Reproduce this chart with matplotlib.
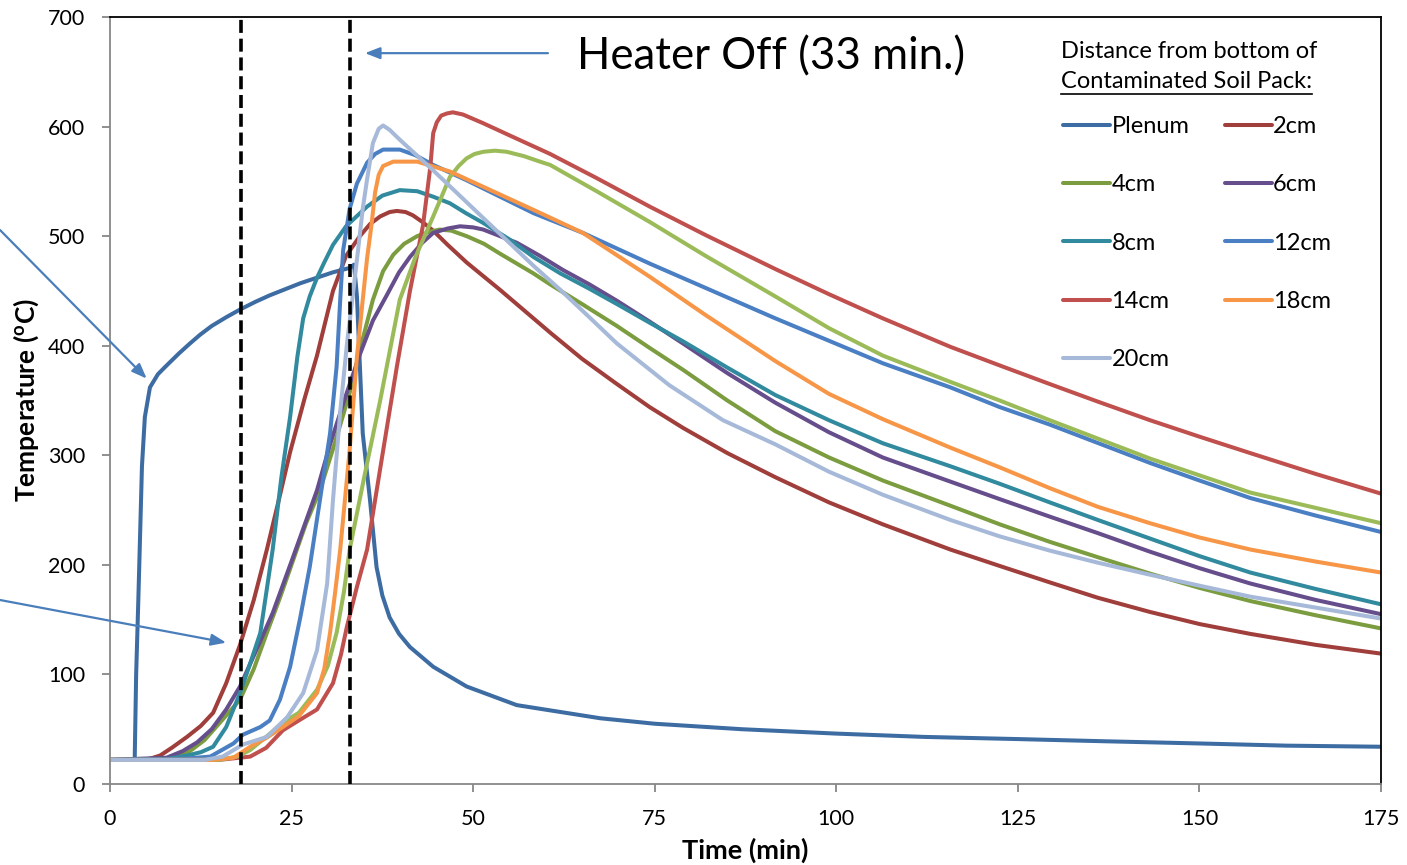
import numpy as np
import matplotlib.pyplot as plt

plt.rcParams['font.family'] = ['Lato', 'DejaVu Sans']
plt.rcParams['mathtext.fontset'] = 'custom'
plt.rcParams['mathtext.rm'] = 'Lato'
plt.rcParams['mathtext.bf'] = 'Lato:bold'

# ---- data (time in min, temperature in degC) ----
t_plenum = [0, 3.4, 3.6, 3.9, 4.4, 4.8, 5.5, 6.6, 7.8, 9.5, 11, 12.4, 14, 16, 17.9, 20, 22,
            26.2, 30.7, 33.0, 33.6, 34.0, 34.8, 35.8, 36.7, 37.5, 38.5, 39.8, 41.3, 44.5,
            49.1, 56, 67.5, 75, 87, 100, 112, 125, 137, 150, 162, 175]
T_plenum = [22, 22, 100, 168, 290, 335, 362, 374, 382, 393, 402, 410, 418, 426, 433, 440, 446,
            457, 467, 471, 474, 445, 320, 259, 198, 172, 152, 137, 125, 107,
            89, 72, 60, 55, 50, 46, 43, 41, 39, 37, 35, 34]

t_2cm = [0, 5, 6.9, 8.5, 10.6, 12.5, 14.2, 16, 17.9, 19.8, 21.6, 23.2, 24.8, 26.8, 28.5,
         30.7, 32.5, 34.4, 35.8, 37.2, 38.5, 39.5, 40.7, 41.7, 43, 44.5, 46.5, 49.1, 53.7,
         60.6, 65, 69.8, 74.3, 78.9, 85, 91.6, 99, 106.4, 115.7, 122.5, 129.4, 136, 143.2,
         150, 157, 166, 175]
T_2cm = [22, 22, 26, 33, 43, 53, 65, 92, 127, 168, 214, 258, 303, 352, 391,
         450, 482, 500, 511, 518, 522, 523, 522, 519, 513, 505, 492, 476, 451,
         412, 388, 365, 344, 325, 302, 280, 257, 237, 214, 199, 184, 170, 157,
         146, 137, 127, 119]

t_4cm = [0, 7, 9, 11, 13, 15, 17.9, 19.8, 21.6, 23.4, 25.2, 27, 28.9, 31, 33.0, 34.4, 36.2,
         37.6, 39, 40.5, 42.3, 44, 45.4, 47, 49.1, 51.5, 53.7, 58.3, 60.6, 65, 69.8, 74.3,
         78.9, 85, 91.6, 99, 106.4, 115.7, 122.5, 129.4, 136, 143.2, 150, 157, 166, 175]
T_4cm = [22, 22, 25, 30, 40, 55, 77, 105, 138, 170, 204, 238, 268, 312, 357, 396, 442,
         468, 483, 493, 500, 504, 506, 505, 500, 493, 484, 466, 456, 438, 418, 398,
         378, 350, 322, 298, 277, 254, 237, 221, 207, 192, 179, 167, 154, 142]

t_6cm = [0, 7.8, 10, 12, 14, 16, 17.9, 20, 22.4, 25.2, 28.5, 30.3, 32.6, 34.4, 36.2, 38.1,
         39.8, 41.3, 43, 44.5, 46.5, 48.2, 50, 51.4, 53.7, 56, 59.2, 62.4, 66, 69.8, 74.3,
         78.9, 85, 91.6, 99, 106.4, 115.7, 122.5, 129.4, 136, 143.2, 150, 157, 166, 175]
T_6cm = [22, 24, 30, 38, 50, 68, 89, 120, 156, 207, 268, 310, 357, 392, 423, 446,
         467, 481, 494, 503, 507, 509, 508, 506, 500, 494, 482, 469, 456, 441, 422,
         402, 375, 348, 321, 298, 276, 260, 244, 229, 212, 197, 183, 168, 155]

t_8cm = [0, 8, 10.6, 12.5, 14.2, 16, 17.9, 19.3, 20.7, 22.4, 23.6, 24.8, 25.8, 26.6, 27.5,
         28.5, 29.5, 30.7, 32.5, 35.4, 37.5, 39.9, 42.3, 44.5, 46.8, 49, 51.4, 55, 58.3,
         62, 66, 69.8, 74.3, 78.9, 85, 91.6, 99, 106.4, 115.7, 122.5, 129.4, 136, 143.2,
         150, 157, 166, 175]
T_8cm = [22, 23, 26, 29, 34, 52, 83, 110, 138, 214, 280, 335, 390, 425, 445,
         462, 476, 492, 509, 527, 537, 542, 541, 536, 530, 521, 512, 497, 481,
         466, 452, 438, 421, 404, 380, 355, 332, 311, 290, 274, 257, 241, 224,
         208, 193, 178, 164]

t_12cm = [0, 10, 13.8, 17, 18.3, 20.7, 22, 23.4, 24.8, 26.2, 27.5, 28.9, 30.3, 31.2, 31.7,
          32.1, 33, 34, 35.4, 36.5, 37.6, 39.9, 42, 44.5, 49.1, 53.7, 58.3, 65.1, 74.3,
          91.6, 106.4, 115.7, 122.5, 129.4, 143.2, 150, 157, 166, 175]
T_12cm = [22, 23, 25, 37, 45, 52, 58, 77, 107, 152, 198, 259, 320, 381, 442,
          487, 525, 548, 567, 575, 579, 579, 574, 565, 551, 536, 521, 503, 475,
          425, 384, 362, 344, 328, 293, 277, 261, 245, 230]

t_14cm = [0, 15, 19.3, 21.5, 23.8, 26, 28.5, 30.7, 31.8, 32.6, 34, 35.4, 37.5, 39.5, 41.3,
          43.1, 44.1, 44.5, 45.0, 45.6, 46.4, 47.2, 48.6, 51.4, 55, 60.6, 67, 74.3, 82,
          91.6, 99, 106.4, 115.7, 122.5, 129.4, 136, 143.2, 150, 157, 166, 175]
T_14cm = [22, 22, 25, 33, 49, 58, 68, 92, 118, 143, 180, 214, 300, 381, 450,
          510, 563, 594, 604, 610, 612, 613, 611, 603, 592, 575, 553, 527, 501,
          470, 447, 425, 399, 382, 365, 349, 332, 317, 302, 283, 265]

# lime series, not listed in the legend of the reference
t_16cm = [0, 15, 17.5, 19.3, 21.5, 23.8, 26, 28.5, 30, 31.2, 32.2, 33.0, 35, 37.2, 39.9,
          42, 44.5, 46.8, 48, 49.1, 50.2, 51.4, 53, 54.6, 57, 59.2, 60.6, 67, 74.3, 82, 91.6,
          99, 106.4, 115.7, 122.5, 129.4, 143.2, 157, 175]
T_16cm = [22, 22, 25, 31, 43, 56, 65, 86, 108, 138, 175, 214, 280, 350, 442,
          480, 518, 554, 564, 571, 575, 577, 578, 577, 573, 568, 565, 541, 513, 482, 445,
          416, 391, 367, 350, 332, 297, 266, 238]

t_18cm = [0, 14, 17, 19.3, 21.5, 23.8, 26, 28.5, 29.5, 30.3, 31.0, 31.7, 33.0, 34.0, 34.8,
          35.4, 36.0, 36.5, 37.0, 37.6, 39, 42.3, 46.8, 51.4, 58.3, 65.1, 74.3, 82, 91.6,
          99, 106.4, 115.7, 122.5, 129.4, 136, 143.2, 150, 157, 166, 175]
T_18cm = [22, 22, 24, 34, 42, 52, 62, 83, 105, 138, 175, 214, 305, 390, 442,
          480, 510, 540, 556, 564, 568, 568, 559, 545, 524, 503, 463, 428, 386,
          356, 333, 307, 289, 270, 253, 238, 225, 214, 203, 193]

t_20cm = [0, 13, 15.5, 18.3, 21.6, 24.4, 26.6, 28.5, 29.9, 30.7, 31.7, 32.6, 33.5, 34.2,
          34.8, 35.4, 36.2, 37.0, 37.6, 38.5, 39.9, 44.5, 49.1, 53.7, 58.3, 62, 66, 69.8,
          77, 84.4, 91.6, 99, 106.4, 115.7, 122.5, 129.4, 136, 143.2, 150, 157, 166, 175]
T_20cm = [22, 22, 25, 36, 43, 61, 83, 122, 183, 259, 340, 400, 450, 490,
          525, 552, 585, 598, 601, 597, 588, 560, 531, 502, 473, 451, 426, 402,
          364, 332, 310, 285, 264, 241, 226, 213, 202, 191, 181, 171, 161, 151]

series = [
    ('Plenum', t_plenum, T_plenum, '#3D6CA3'),
    ('2cm', t_2cm, T_2cm, '#A03E3B'),
    ('4cm', t_4cm, T_4cm, '#7B9C3F'),
    ('6cm', t_6cm, T_6cm, '#654E8B'),
    ('8cm', t_8cm, T_8cm, '#328A9F'),
    ('12cm', t_12cm, T_12cm, '#4A7FC3'),
    ('14cm', t_14cm, T_14cm, '#C0504D'),
    ('_16cm', t_16cm, T_16cm, '#9BBB59'),
    ('18cm', t_18cm, T_18cm, '#F79646'),
    ('20cm', t_20cm, T_20cm, '#A6B9D9'),
]

heater_on = 18
heater_off = 33

fig = plt.figure(figsize=(14.07, 8.65), dpi=100)
ax = fig.add_axes([110 / 1407, 81 / 865, 1271 / 1407, 767 / 865])

handles = {}
for name, t, T, c in series:
    ln, = ax.plot(t, T, color=c, lw=2.9, solid_capstyle='round', solid_joinstyle='round')
    handles[name] = ln

for x in (heater_on, heater_off):
    ax.axvline(x, color='black', lw=2.6, dashes=(3.6, 1.6), dash_capstyle='butt', zorder=5)

ax.set_xlim(0, 175)
ax.set_ylim(0, 700)
ax.set_xticks(np.arange(0, 176, 25))
ax.set_yticks(np.arange(0, 701, 100))
ax.tick_params(direction='out', length=6, width=1.3, color='#878787', labelsize=15.5, pad=12)
for s in ('left', 'bottom'):
    ax.spines[s].set_color('#878787')
    ax.spines[s].set_linewidth(1.3)
for s in ('top', 'right'):
    ax.spines[s].set_color('black')
    ax.spines[s].set_linewidth(1.3)

ax.set_xlabel('Time (min)', fontsize=19.5, fontweight='bold', labelpad=6)
ax.set_ylabel(r'Temperature ($\mathbf{^{o}}$C)', fontsize=19, fontweight='bold', labelpad=5)

# arrows
arrow_kw = dict(arrowstyle='-|>,head_length=0.9,head_width=0.35', color='#4A7EBB', lw=1.6,
                shrinkA=0, shrinkB=0)
ax.annotate('', xy=(5.05, 370), xytext=(0, 865 - 230), textcoords='figure pixels',
            xycoords='data', arrowprops=arrow_kw, annotation_clip=False)
ax.annotate('', xy=(16.0, 129), xytext=(0, 865 - 600), textcoords='figure pixels',
            xycoords='data', arrowprops=arrow_kw, annotation_clip=False)
ax.annotate('', xy=(35.1, 667), xytext=(60.3, 667), arrowprops=arrow_kw)
ax.text(64.3, 664, 'Heater Off (33 min.)', fontsize=31.5, va='center', ha='left')

# legend (row-wise order like the reference)
order = ['Plenum', '4cm', '8cm', '14cm', '20cm', '2cm', '6cm', '12cm', '18cm']
ax.legend([handles[k] for k in order], order, ncol=2, frameon=False, fontsize=17,
          loc='upper left', bbox_to_anchor=(1063 / 1407, 1 - 116 / 865),
          bbox_transform=fig.transFigure, borderpad=0, borderaxespad=0, handlelength=2.0,
          handletextpad=0.05, labelspacing=1.58, columnspacing=1.5)

fig.text(1061 / 1407, 1 - 52 / 865, 'Distance from bottom of', fontsize=17, va='center')
t2 = fig.text(1061 / 1407, 1 - 82 / 865, 'Contaminated Soil Pack:', fontsize=17, va='center')
fig.canvas.draw()
bb = t2.get_window_extent().transformed(fig.transFigure.inverted())
fig.add_artist(plt.Line2D([bb.x0, bb.x1], [bb.y0 - 0.002, bb.y0 - 0.002], color='black',
                          lw=1.2, transform=fig.transFigure))

fig.savefig('out.png', dpi=100)
